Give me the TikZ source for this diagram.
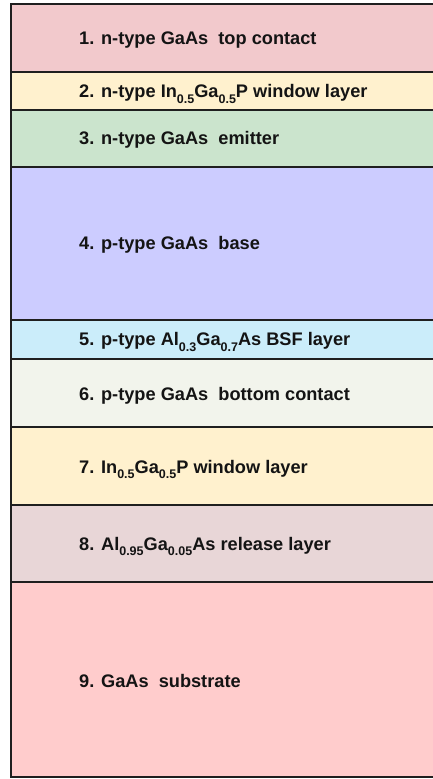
\documentclass[tikz,border=0pt]{standalone}
\usepackage{fontspec}
\setmainfont{Liberation Sans}
\newcommand\lsub[1]{\raisebox{-0.32em}{\fontsize{12.5}{13}\selectfont #1}}
\definecolor{cTop}{RGB}{242,201,204}
\definecolor{cWin}{RGB}{255,241,206}
\definecolor{cEmit}{RGB}{203,228,205}
\definecolor{cBase}{RGB}{204,204,255}
\definecolor{cBsf}{RGB}{203,237,250}
\definecolor{cBot}{RGB}{242,244,236}
\definecolor{cRel}{RGB}{232,214,215}
\definecolor{cSub}{RGB}{255,204,204}
\tikzset{
  layerline/.style={line width=2pt, draw=black!88},
  layertext/.style={anchor=base west, inner sep=0pt, text=black!92,
    font=\fontsize{18.2}{20}\selectfont\bfseries},
}
\begin{document}
\begin{tikzpicture}[x=1pt, y=-1pt]
\useasboundingbox (0,0) rectangle (433,779);
% layer fills, top to bottom
\fill[cTop]  (11,3.5) rectangle (433,72);
\fill[cWin]  (11,72)  rectangle (433,110);
\fill[cEmit] (11,110) rectangle (433,167);
\fill[cBase] (11,167) rectangle (433,320);
\fill[cBsf]  (11,320) rectangle (433,359);
\fill[cBot]  (11,359) rectangle (433,427);
\fill[cWin]  (11,427) rectangle (433,505);
\fill[cRel]  (11,505) rectangle (433,582);
\fill[cSub]  (11,582) rectangle (433,777);
% outline and interfaces
\draw[layerline] (434,3.5) -- (11,3.5) -- (11,777) -- (434,777);
\foreach \yy in {72,110,167,320,359,427,505,582}
  \draw[layerline] (11,\yy) -- (434,\yy);
% labels
\node[layertext] (l1) at (79,44.3)  {1. n-type GaAs\ \ top contact};
\node[layertext] (l2) at (79,97.3)  {2. n-type In\lsub{0.5}Ga\lsub{0.5}P window layer};
\node[layertext] (l3) at (79,144.2) {3. n-type GaAs\ \ emitter};
\node[layertext] (l4) at (79,249.5) {4. p-type GaAs\ \ base};
\node[layertext] (l5) at (79,345.5) {5. p-type Al\lsub{0.3}Ga\lsub{0.7}As BSF layer};
\node[layertext] (l6) at (79,400)   {6. p-type GaAs\ \ bottom contact};
\node[layertext] (l7) at (79,473)   {7. In\lsub{0.5}Ga\lsub{0.5}P window layer};
\node[layertext] (l8) at (79,550)   {8. Al\lsub{0.95}Ga\lsub{0.05}As release layer};
\node[layertext] (l9) at (79,687)   {9. GaAs\ \ substrate};
\end{tikzpicture}
\end{document}
